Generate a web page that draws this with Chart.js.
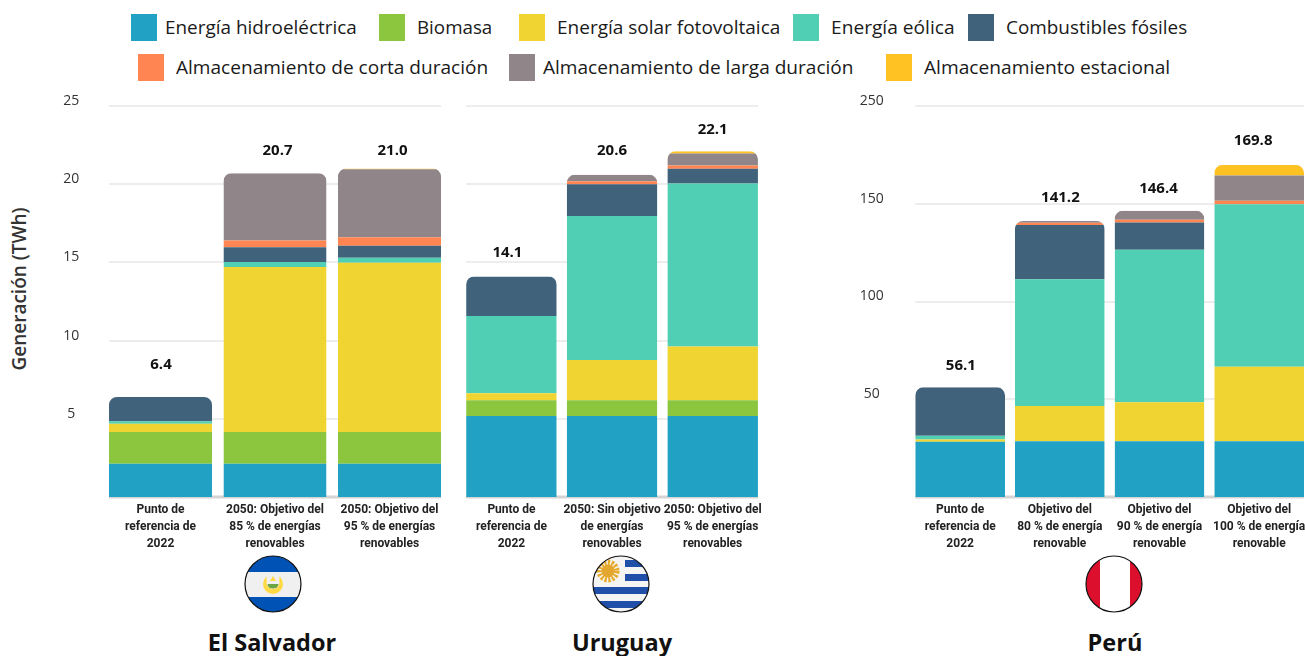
<!DOCTYPE html>
<html lang="es">
<head>
<meta charset="utf-8">
<title>Generación eléctrica</title>
<script src="https://cdn.jsdelivr.net/npm/chart.js@4/dist/chart.umd.min.js"></script>
<style>
    html, body { margin: 0; padding: 0; background: #fff; }
    #page { position: relative; width: 1305px; height: 656px; overflow: hidden; font-family: "Open Sans", sans-serif; color: #1a1a1a; }
    #page canvas { position: absolute; top: 90px; }
    .swatch { position: absolute; width: 26px; height: 27px; }
    .legend-text { position: absolute; font-size: 19px; line-height: 28px; white-space: nowrap; transform-origin: left center; }
    .country { position: absolute; top: 626px; width: 200px; text-align: center; font-size: 23.5px; font-weight: 700; line-height: 32px; color: #111; }
    .flag { position: absolute; top: 554px; }
    #ytitle { position: absolute; left: 19px; top: 289px; transform: translate(-50%, -50%) rotate(-90deg); font-size: 19px; font-weight: 600; color: #333; white-space: nowrap; }
</style>
</head>
<body>
<div id="page">
    <div id="legend"></div>
    <div id="ytitle">Generación (TWh)</div>

    <canvas id="chartSalvador" width="450" height="470" style="left:0"></canvas>
    <canvas id="chartUruguay" width="320" height="470" style="left:450px"></canvas>
    <canvas id="chartPeru" width="460" height="470" style="left:850px"></canvas>

    <svg class="flag" style="left:243px" width="60" height="60" viewBox="-30 -30 60 60">
        <clipPath id="clipSv"><circle r="28"/></clipPath>
        <g clip-path="url(#clipSv)">
            <rect x="-30" y="-30" width="60" height="60" fill="#0052b4"/>
            <rect x="-30" y="-12" width="60" height="25" fill="#f0f0f0"/>
            <circle r="10" fill="#ffda44"/>
            <circle cy="-1.5" r="6.5" fill="#f0f0f0"/>
            <rect x="-6.5" y="-11" width="13" height="7" fill="#f0f0f0"/>
            <path d="M0 -8 L3 -3 L-3 -3 Z" fill="#ffda44"/>
            <path d="M-5.5 0 H5.5 A5.5 4.5 0 0 1 -5.5 0 Z" fill="#6da544"/>
        </g>
        <circle r="28" fill="none" stroke="#111" stroke-width="1.2"/>
    </svg>
    <svg class="flag" style="left:591px" width="60" height="60" viewBox="-30 -30 60 60">
        <clipPath id="clipUy"><circle r="28"/></clipPath>
        <g clip-path="url(#clipUy)">
            <rect x="-30" y="-30" width="60" height="60" fill="#f4f4f4"/>
            <rect x="4" y="-24" width="30" height="7" fill="#1f4fa8"/>
            <rect x="4" y="-10" width="30" height="7" fill="#1f4fa8"/>
            <rect x="-30" y="3" width="60" height="7" fill="#1f4fa8"/>
            <rect x="-30" y="17" width="60" height="7" fill="#1f4fa8"/>
            <circle cx="-13" cy="-13" r="8.5" fill="none" stroke="#e8ac2c" stroke-width="6" stroke-dasharray="2.2 1.4"/>
            <circle cx="-13" cy="-13" r="6.5" fill="#e3a62e"/>
        </g>
        <circle r="28" fill="none" stroke="#111" stroke-width="1.2"/>
    </svg>
    <svg class="flag" style="left:1084px" width="60" height="60" viewBox="-30 -30 60 60">
        <clipPath id="clipPe"><circle r="28"/></clipPath>
        <g clip-path="url(#clipPe)">
            <rect x="-30" y="-30" width="60" height="60" fill="#fff"/>
            <rect x="-30" y="-30" width="16" height="60" fill="#dc0f2d"/>
            <rect x="16" y="-30" width="16" height="60" fill="#dc0f2d"/>
        </g>
        <circle r="28" fill="none" stroke="#111" stroke-width="1.2"/>
    </svg>

    <div class="country" style="left:172px">El Salvador</div>
    <div class="country" style="left:522px">Uruguay</div>
    <div class="country" style="left:1015px">Perú</div>
</div>

<script>
const seriesNames = ['Energía hidroeléctrica', 'Biomasa', 'Energía solar fotovoltaica', 'Energía eólica', 'Combustibles fósiles',
    'Almacenamiento de corta duración', 'Almacenamiento de larga duración', 'Almacenamiento estacional'];
const seriesColors = ['#21a2c4', '#8cc63f', '#f0d431', '#50cfb5', '#40627b', '#ff8652', '#908689', '#ffc222'];

// El Salvador (TWh)
const salvadorLabels = [['Punto de', 'referencia de', '2022'], ['2050: Objetivo del', '85 % de energías', 'renovables'], ['2050: Objetivo del', '95 % de energías', 'renovables']];
const salvadorHidro = [2.13, 2.13, 2.13];
const salvadorBiomasa = [2.03, 2.03, 2.03];
const salvadorSolar = [0.53, 10.55, 10.81];
const salvadorEolica = [0.15, 0.32, 0.32];
const salvadorFosil = [1.56, 0.94, 0.77];
const salvadorCorta = [0, 0.43, 0.55];
const salvadorLarga = [0, 4.30, 4.34];
const salvadorEstacional = [0, 0, 0.05];
const salvadorTotals = [6.4, 20.7, 21.0];
const salvadorTicks = ['', '5', '10', '15', '20', '25'];

// Uruguay (TWh)
const uruguayLabels = [['Punto de', 'referencia de', '2022'], ['2050: Sin objetivo', 'de energías', 'renovables'], ['2050: Objetivo del', '95 % de energías', 'renovables']];
const uruguayHidro = [5.18, 5.18, 5.18];
const uruguayBiomasa = [1.00, 1.00, 1.00];
const uruguaySolar = [0.45, 2.58, 3.44];
const uruguayEolica = [4.95, 9.21, 10.42];
const uruguayFosil = [2.52, 2.03, 0.94];
const uruguayCorta = [0, 0.19, 0.22];
const uruguayLarga = [0, 0.41, 0.76];
const uruguayEstacional = [0, 0, 0.14];
const uruguayTotals = [14.1, 20.6, 22.1];

// Perú (TWh)
const peruLabels = [['Punto de', 'referencia de', '2022'], ['Objetivo del', '80 % de energía', 'renovable'], ['Objetivo del', '90 % de energía', 'renovable'], ['Objetivo del', '100 % de energía', 'renovable']];
const peruHidro = [28.2, 28.5, 28.5, 28.5];
const peruBiomasa = [0, 0, 0, 0];
const peruSolar = [1.2, 18.1, 20.0, 38.1];
const peruEolica = [1.9, 64.8, 78.0, 83.2];
const peruFosil = [24.8, 27.7, 13.9, 0];
const peruCorta = [0, 1.2, 1.4, 1.7];
const peruLarga = [0, 0.9, 4.6, 13.0];
const peruEstacional = [0, 0, 0, 5.3];
const peruTotals = [56.1, 141.2, 146.4, 169.8];
const peruTicks = ['', '50', '100', '150', '250'];

// legend rows: left of swatch, left of text, text width, row centre
const legendRows = [
    [131, 165, 192, 28], [379, 417, 75, 28], [519, 557, 223, 28], [793, 831, 124, 28], [968, 1006, 181, 28],
    [138, 176, 312, 68], [509, 543, 311, 68], [886, 924, 246, 68]
];
const legendBox = document.getElementById('legend');
seriesNames.forEach((name, i) => {
    const [sx, tx, tw, cy] = legendRows[i];
    const sw = document.createElement('div');
    sw.className = 'swatch';
    sw.style.cssText = `left:${sx}px;top:${cy - 14}px;background:${seriesColors[i]}`;
    legendBox.appendChild(sw);
    const t = document.createElement('div');
    t.className = 'legend-text';
    t.style.cssText = `left:${tx}px;top:${cy - 15}px`;
    t.textContent = name;
    t.dataset.fit = tw;
    legendBox.appendChild(t);
});
// squeeze each legend text to its slot
document.querySelectorAll('.legend-text').forEach(t => {
    t.style.transform = `scaleX(${t.dataset.fit / t.offsetWidth})`;
});

// grid only spans from the first bar to the last one, baseline a bit heavier
const gridPlugin = {
    id: 'spanGrid',
    beforeDatasetsDraw(chart) {
        const { ctx, scales: { y } } = chart;
        const bars = chart.getDatasetMeta(0).data;
        const left = bars[0].x - bars[0].width / 2;
        const last = bars[bars.length - 1];
        const right = last.x + last.width / 2;
        ctx.save();
        y.ticks.forEach(t => {
            const py = Math.round(y.getPixelForValue(t.value));
            ctx.strokeStyle = t.value === 0 ? '#d4d4d4' : '#e7e7e7';
            ctx.lineWidth = t.value === 0 ? 3 : 1.5;
            ctx.beginPath();
            ctx.moveTo(left, py);
            ctx.lineTo(right, py);
            ctx.stroke();
        });
        ctx.restore();
    }
};

// rounds the top of each whole stack, thin top segments included
const roundTopPlugin = {
    id: 'roundTop',
    beforeDatasetsDraw(chart, args, opts) {
        const { ctx, scales: { y } } = chart;
        const bars = chart.getDatasetMeta(0).data;
        ctx.save();
        ctx.beginPath();
        bars.forEach((b, i) => {
            const top = y.getPixelForValue(opts.totals[i]);
            ctx.roundRect(b.x - b.width / 2, top, b.width, y.bottom - top, [8, 8, 0, 0]);
        });
        ctx.clip();
    },
    afterDatasetsDraw(chart) {
        chart.ctx.restore();
    }
};

// total above each bar
const totalsPlugin = {
    id: 'totals',
    afterDraw(chart, args, opts) {
        const { ctx, scales: { y } } = chart;
        const bars = chart.getDatasetMeta(0).data;
        ctx.save();
        ctx.font = '700 15px "Open Sans"';
        ctx.fillStyle = '#111';
        ctx.textAlign = 'center';
        ctx.textBaseline = 'middle';
        bars.forEach((b, i) => {
            const [dx, dy] = opts.shift[i];
            ctx.fillText(opts.totals[i].toFixed(1), b.x + dx, y.getPixelForValue(opts.totals[i]) + dy);
        });
        ctx.restore();
    }
};

function drawPanel(id, cfg) {
    new Chart(document.getElementById(id), {
        type: 'bar',
        data: {
            labels: cfg.labels,
            datasets: cfg.series.map((values, i) => ({
                label: seriesNames[i],
                data: values,
                backgroundColor: seriesColors[i],
                borderWidth: 0,
                categoryPercentage: 1,
                barPercentage: 0.9
            }))
        },
        options: {
            responsive: false,
            animation: false,
            devicePixelRatio: 1,
            layout: { padding: { top: 16, right: cfg.padRight, left: 0, bottom: 0 } },
            plugins: {
                legend: { display: false },
                tooltip: { enabled: false },
                roundTop: { totals: cfg.totals },
                totals: { totals: cfg.totals, shift: cfg.shift }
            },
            scales: {
                x: {
                    stacked: true,
                    grid: { display: false },
                    border: { display: false },
                    afterFit: s => { s.height = 63; s.paddingLeft = 0; s.paddingRight = 0; },
                    ticks: {
                        autoSkip: false,
                        maxRotation: 0,
                        padding: -3,
                        color: '#222',
                        font: { family: 'Roboto', weight: 'bold', size: 12, lineHeight: 1.4 }
                    }
                },
                y: {
                    stacked: true,
                    min: 0,
                    max: cfg.max,
                    grid: { display: false },
                    border: { display: false },
                    afterFit: s => { s.width = cfg.axisWidth; s.paddingTop = 0; s.paddingBottom = 0; },
                    ticks: {
                        display: !!cfg.ticks,
                        stepSize: cfg.max === 200 ? 50 : 5,
                        padding: cfg.tickPad,
                        crossAlign: 'center',
                        labelOffset: -5,
                        color: '#333',
                        font: { family: '"Open Sans"', size: 14 },
                        callback: (v, i) => (cfg.ticks ? cfg.ticks[i] : '')
                    }
                }
            }
        },
        plugins: [gridPlugin, roundTopPlugin, totalsPlugin]
    });
}

drawPanel('chartSalvador', {
    labels: salvadorLabels,
    series: [salvadorHidro, salvadorBiomasa, salvadorSolar, salvadorEolica, salvadorFosil, salvadorCorta, salvadorLarga, salvadorEstacional],
    totals: salvadorTotals,
    ticks: salvadorTicks,
    max: 25,
    axisWidth: 103.25,
    padRight: 3.25,
    tickPad: 16,
    shift: [[0.5, -32], [2.5, -22.6], [3, -18]]
});

drawPanel('chartUruguay', {
    labels: uruguayLabels,
    series: [uruguayHidro, uruguayBiomasa, uruguaySolar, uruguayEolica, uruguayFosil, uruguayCorta, uruguayLarga, uruguayEstacional],
    totals: uruguayTotals,
    ticks: null,
    max: 25,
    axisWidth: 11.1,
    padRight: 7,
    tickPad: 0,
    shift: [[-4, -24], [0, -24], [0, -21.5]]
});

drawPanel('chartPeru', {
    labels: peruLabels,
    series: [peruHidro, peruBiomasa, peruSolar, peruEolica, peruFosil, peruCorta, peruLarga, peruEstacional],
    totals: peruTotals,
    ticks: peruTicks,
    max: 200,
    axisWidth: 60.3,
    padRight: 1,
    tickPad: 18.5,
    shift: [[0.7, -22], [0.6, -22.8], [-1, -22.5], [-6, -24.7]]
});
</script>
</body>
</html>
